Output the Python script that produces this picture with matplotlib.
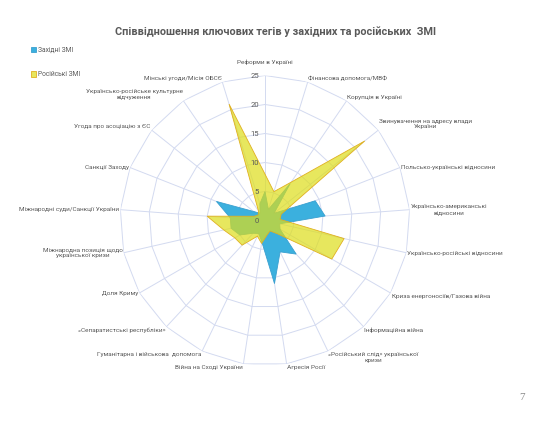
import numpy as np
import matplotlib.pyplot as plt
from matplotlib import font_manager as fm

# Теги (за годинниковою стрілкою, починаючи зверху)
categories = [
    "Реформи в Україні",
    "Фінансова допомога/МВФ",
    "Корупція в Україні",
    "Звинувачення на адресу влади\nУкраїни",
    "Польсько-українські відносини",
    "Українсько-американські\nвідносини",
    "Українсько-російські відносини",
    "Криза енергоносіїв/Газова війна",
    "Інформаційна війна",
    "«Російський слід» української\nкризи",
    "Агресія Росії",
    "Війна на Сході України",
    "Гуманітарна і військова  допомога",
    "«Сепаратистські республіки»",
    "Доля Криму",
    "Міжнародна позиція щодо\nукраїнської кризи",
    "Міжнародні суди/Санкції України",
    "Санкції Заходу",
    "Угода про асоціацію з ЄС",
    "Українсько-російське культурне\nвідчуження",
    "Мінські угоди/Місія ОБСЄ",
]
western = [5, 2, 7.7, 2, 9.3, 10.4, 2.6, 3, 7.9, 6, 11, 3.7, 2.5, 3, 5, 6, 6, 9, 2.5, 1.5, 3]
russian = [8, 5.2, 8, 22, 3, 2.6, 14, 13.3, 3.1, 2, 2.5, 4, 3, 5.8, 6, 7.3, 10, 2, 1.5, 2, 21]
series_names = ["Західні ЗМІ", "Російські ЗМІ"]
rticks = [0, 5, 10, 15, 20, 25]

names = {f.name for f in fm.fontManager.ttflist}
fam = "Liberation Sans Narrow" if "Liberation Sans Narrow" in names else "Roboto"
plt.rcParams["font.family"] = [fam, "DejaVu Sans"]

TXT = "#595959"
GRID = "#d3daf0"

fig = plt.figure(figsize=(5.58, 4.30), dpi=100, facecolor="white")
ax = fig.add_axes([0.2150, 0.1500, 0.5198, 0.6744], projection="polar")
ax.set_theta_zero_location("N")
ax.set_theta_direction(-1)
ax.set_ylim(0, 25)
ax.axis("off")

n = len(categories)
ang = np.linspace(0, 2 * np.pi, n, endpoint=False)
closed = np.append(ang, ang[0])

# сітка-павутина
for r in rticks[1:]:
    ax.plot(closed, [r] * (n + 1), color=GRID, lw=0.7, zorder=1)
for a in ang:
    ax.plot([a, a], [0, 25], color=GRID, lw=0.7, zorder=1)

wv = np.append(western, western[0])
rv = np.append(russian, russian[0])
h1 = ax.fill(closed, wv, facecolor="#3bb0de", edgecolor="#3aa0d0", lw=0.6, zorder=2)[0]
h2 = ax.fill(closed, rv, facecolor=(0.87, 0.87, 0.10, 0.70), edgecolor="#e0b020",
             lw=0.6, zorder=3)[0]

# підписи осей
for a, lab in zip(ang, categories):
    s, c = np.sin(a), np.cos(a)
    ha = "left" if s > 0.1 else ("right" if s < -0.1 else "center")
    va = "bottom" if c > 0.5 else ("top" if c < -0.5 else "center")
    r = 26.8 if abs(s) < 0.1 else 25.2
    ax.text(a, r, lab, ha=ha, va=va, fontsize=4.6, color=TXT,
            multialignment="center", zorder=5)

# значення шкали
for t in rticks:
    ax.annotate(str(t), (0, t), xytext=(-4.5, 0), textcoords="offset points",
                ha="right", va="center", fontsize=5.5, color=TXT, zorder=5)

fig.text(0.493, 1 - 32 / 430, "Співвідношення ключових тегів у західних та російських  ЗМІ",
         ha="center", va="center", fontsize=7.8, fontweight="bold", color=TXT)

fig.legend([h1, h2], series_names, loc="upper left", bbox_to_anchor=(0.045, 1 - 41 / 430),
           frameon=False, fontsize=4.8, handlelength=0.8, handleheight=0.8,
           handletextpad=0.2, labelspacing=2.6, labelcolor=TXT)

fig.text(522 / 558, 1 - 398 / 430, "7", ha="center", va="center", fontsize=8,
         color="#8c8c8c", family="Liberation Serif")

fig.savefig("out.png", dpi=100, facecolor="white")
